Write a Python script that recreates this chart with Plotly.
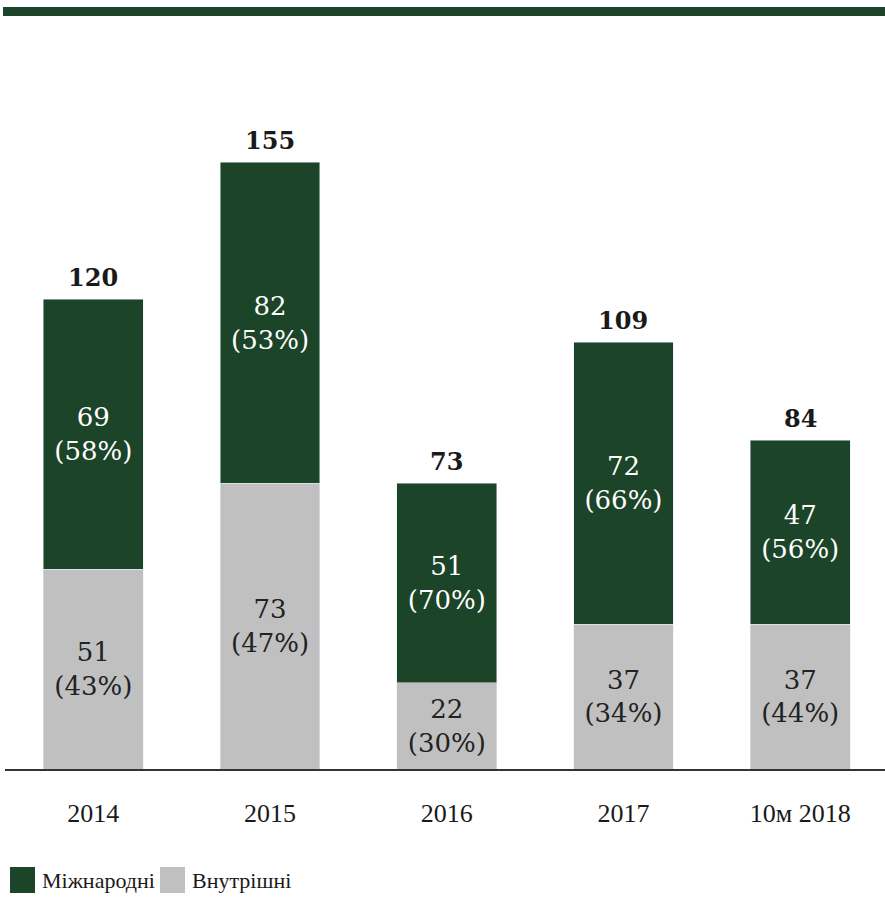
import plotly.graph_objects as go

categories = ["2014", "2015", "2016", "2017", "10м 2018"]
international = [69, 82, 51, 72, 47]
international_pct = [58, 53, 70, 66, 56]
domestic = [51, 73, 22, 37, 37]
domestic_pct = [43, 47, 30, 34, 44]
totals = [120, 155, 73, 109, 84]
series_names = ["Міжнародні", "Внутрішні"]

GREEN = "#1b4429"
GRAY = "#c0c0c0"
W, H = 885, 897
ML, MR, MT, MB = 5, 0, 84, 128
YMAX = 175

fig = go.Figure()
fig.add_trace(go.Bar(
    x=categories, y=domestic, name=series_names[1], marker_color=GRAY,
    text=[f"{v}<br>({p}%)" for v, p in zip(domestic, domestic_pct)],
    textposition="inside", insidetextanchor="middle",
    textfont=dict(family="DejaVu Serif", size=26, color="#222222"),
    width=0.565, showlegend=False,
))
fig.add_trace(go.Bar(
    x=categories, y=international, name=series_names[0], marker_color=GREEN,
    text=[f"{v}<br>({p}%)" for v, p in zip(international, international_pct)],
    textposition="inside", insidetextanchor="middle",
    textfont=dict(family="DejaVu Serif", size=26, color="white"),
    width=0.565, showlegend=False,
))

pw = W - ML - MR
ph = H - MT - MB
def px_x(x):
    return (x - ML) / pw
def px_y(y):
    return (H - MB - y) / ph

shapes = [
    dict(type="rect", xref="paper", yref="paper",
         x0=px_x(3), x1=px_x(885), y0=px_y(16), y1=px_y(7),
         fillcolor=GREEN, line=dict(width=0)),
]
annotations = []
for i, t in enumerate(totals):
    annotations.append(dict(x=i, y=t, xref="x", yref="y", text=f"<b>{t}</b>",
                            showarrow=False, yanchor="bottom", yshift=5,
                            font=dict(family="DejaVu Serif", size=24, color="#1a1a1a")))
legend_items = [(series_names[0], GREEN, 10), (series_names[1], GRAY, 160)]
for name, col, x0 in legend_items:
    shapes.append(dict(type="rect", xref="paper", yref="paper",
                       x0=px_x(x0), x1=px_x(x0 + 25), y0=px_y(893), y1=px_y(867),
                       fillcolor=col, line=dict(width=0)))
    annotations.append(dict(xref="paper", yref="paper", x=px_x(x0 + 30), y=px_y(881),
                            text=name, showarrow=False, xanchor="left", yanchor="middle",
                            font=dict(family="Liberation Serif", size=22, color="#1a1a1a")))

fig.update_layout(
    width=W, height=H, barmode="stack", bargap=0.435,
    margin=dict(l=ML, r=MR, t=MT, b=MB),
    plot_bgcolor="white", paper_bgcolor="white",
    uniformtext=dict(minsize=26, mode="show"),
    shapes=shapes, annotations=annotations,
    xaxis=dict(type="category", range=[-0.5, len(categories) - 0.52],
               showline=True, linecolor="#333333", linewidth=2, showgrid=False,
               ticks="outside", ticklen=20, tickcolor="rgba(0,0,0,0)",
               tickfont=dict(family="Liberation Serif", size=26, color="#1a1a1a")),
    yaxis=dict(visible=False, range=[0, YMAX]),
)
fig.write_html("out.html", config={"displayModeBar": False},
               post_script="document.body.style.margin='0px';document.body.style.overflow='hidden';")
